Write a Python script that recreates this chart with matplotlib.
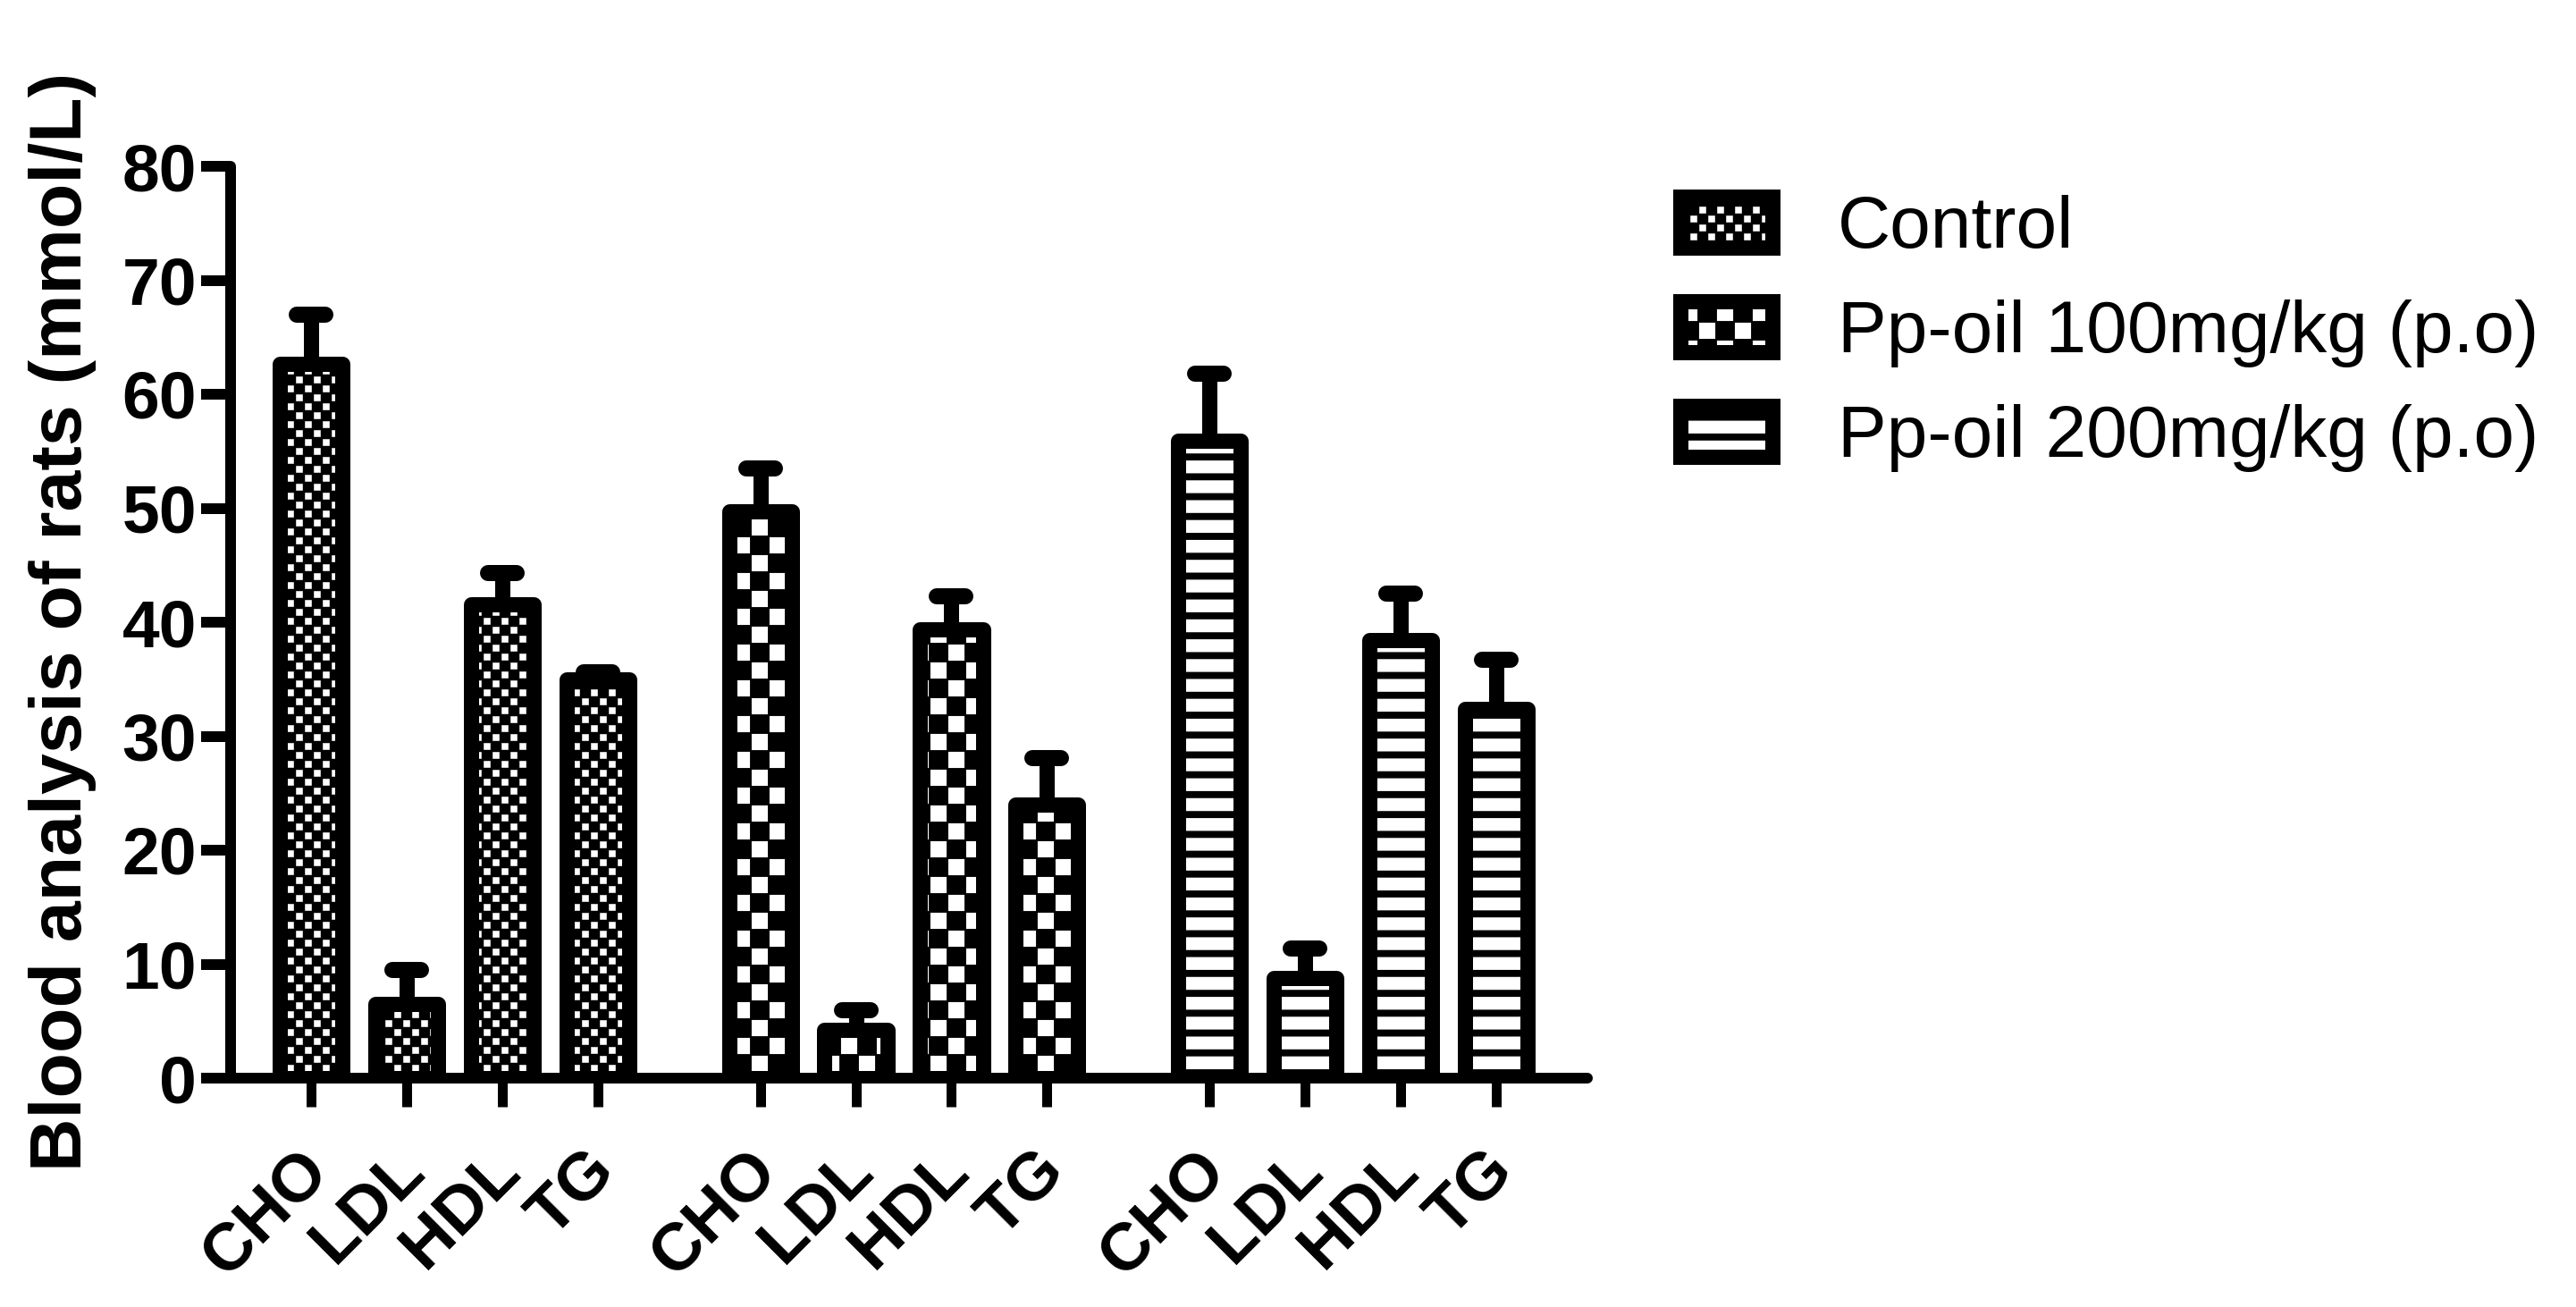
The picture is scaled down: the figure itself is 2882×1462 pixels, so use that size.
import numpy as np
import matplotlib
matplotlib.use("Agg")
import matplotlib.pyplot as plt
import matplotlib.hatch as mhatch
from matplotlib.path import Path
from matplotlib.markers import MarkerStyle
from matplotlib.transforms import ScaledTranslation

# ---------------- data ----------------
groups = ["Control", "Pp-oil 100mg/kg (p.o)", "Pp-oil 200mg/kg (p.o)"]
analytes = ["CHO", "LDL", "HDL", "TG"]
control_mean = [62.7, 6.5, 41.6, 35.0]
control_err = [4.3, 3.0, 2.7, 0.6]
pp100_mean = [49.7, 4.2, 39.4, 24.0]
pp100_err = [3.8, 1.8, 2.9, 4.1]
pp200_mean = [55.9, 8.8, 38.4, 32.4]
pp200_err = [5.9, 2.6, 4.1, 4.3]
y_ticks = [0, 10, 20, 30, 40, 50, 60, 70, 80]
y_label = "Blood analysis of rats (mmol/L)"

means = [control_mean, pp100_mean, pp200_mean]
errs = [control_err, pp100_err, pp200_err]
hatches = [".", "x", "-"]

# ---------------- custom hatch patterns (white on black) ----------------
class _TileHatch(mhatch.HatchPatternBase):
    key = ""
    def __init__(self, hatch, density):
        self.rects = self.build() if self.key in hatch else []
        self.num_vertices = 5 * len(self.rects)

    def set_vertices_and_codes(self, vertices, codes):
        for k, (x0, y0, w, h) in enumerate(self.rects):
            vertices[5 * k:5 * k + 5] = [(x0, y0), (x0 + w, y0), (x0 + w, y0 + h),
                                         (x0, y0 + h), (x0, y0)]
            codes[5 * k:5 * k + 5] = [Path.MOVETO, Path.LINETO, Path.LINETO,
                                      Path.LINETO, Path.CLOSEPOLY]


class _Checker(_TileHatch):
    n = 20
    frac = 0.75
    def build(self):
        c = 1.0 / self.n
        s = c * self.frac
        m = (c - s) / 2
        return [(i * c + m, j * c + m, s, s)
                for i in range(self.n) for j in range(self.n) if (i + j) % 2 == 0]


class FineChecker(_Checker):
    key = "."
    n = 20
    frac = 0.75


class CoarseChecker(_Checker):
    key = "x"
    n = 10
    frac = 0.9


class Stripes(_TileHatch):
    key = "-"
    n = 9
    frac = 0.64
    def build(self):
        c = 1.0 / self.n
        h = c * self.frac
        return [(0.0, j * c + (c - h) / 2, 1.0, h) for j in range(self.n)]


mhatch._hatch_types = [FineChecker, CoarseChecker, Stripes]

# ---------------- figure ----------------
DPI = 200
plt.rcParams["font.family"] = ["Liberation Sans", "DejaVu Sans"]
plt.rcParams["hatch.linewidth"] = 0.05

fig = plt.figure(figsize=(2882 / DPI, 1462 / DPI), dpi=DPI)
ax = fig.add_axes([258 / 2882, 1 - 1206 / 1462, 1518 / 2882, 1020 / 1462])

px = 72.0 / DPI  # points per pixel
group_step = 4.7
bar_w = 0.656
edge_lw = 17 * px

handles = []
tick_pos = []
tick_lab = []
for g, (m, e, h) in enumerate(zip(means, errs, hatches)):
    x = g * group_step + np.arange(len(analytes))
    m = np.asarray(m)
    e = np.asarray(e)
    fill = ax.bar(x, m, width=bar_w, color="black", edgecolor="white",
                  linewidth=0, hatch=h, zorder=2)
    edge = ax.bar(x, m, width=bar_w, fill=False, edgecolor="black",
                  linewidth=edge_lw, joinstyle="round", zorder=3)
    ax.errorbar(x, m, yerr=[np.zeros_like(e), e], fmt="none", ecolor="black",
                elinewidth=17 * px, capsize=0, zorder=1.5)
    ax.plot(x, m + e, linestyle="none",
            marker=MarkerStyle("_", capstyle="round"),
            markersize=32 * px, markeredgewidth=18 * px,
            color="black", zorder=1.6)
    handles.append((fill[0], edge[0]))
    tick_pos.extend(x)
    tick_lab.extend(analytes)

ax.set_xlim(-0.8435, 13.356)
ax.set_ylim(0, 80)
ax.set_yticks(y_ticks)
ax.set_xticks(tick_pos)

for s in ["top", "right"]:
    ax.spines[s].set_visible(False)
for s in ["left", "bottom"]:
    ax.spines[s].set_linewidth(12 * px)
    ax.spines[s].set_capstyle("round")

ax.tick_params(axis="y", length=33 * px, width=12 * px, pad=5 * px,
               labelsize=27, direction="out")
ax.tick_params(axis="x", length=32 * px, width=11 * px, pad=60 * px,
               labelsize=27, direction="out")
for lab in ax.get_yticklabels():
    lab.set_fontweight("bold")

ax.set_xticklabels(tick_lab, rotation=45, ha="right", va="center",
                   rotation_mode="anchor", fontweight="bold")
off = ScaledTranslation(8 / DPI, 0, fig.dpi_scale_trans)
for lab in ax.get_xticklabels():
    lab.set_transform(lab.get_transform() + off)

fig.text(70 / 2882, 1 - 695 / 1462, y_label, rotation=90, ha="center",
         va="center", fontsize=29.7, fontweight="bold")

fs_leg = 29.5
fs_px = fs_leg / px
leg = fig.legend(handles, groups, loc="upper left",
                 bbox_to_anchor=(1880 / 2882, 1 - 218 / 1462),
                 frameon=False, fontsize=fs_leg, borderpad=0, borderaxespad=0,
                 handlelength=103 / fs_px, handleheight=57 / fs_px,
                 handletextpad=73 / fs_px, labelspacing=0.5)

fig.savefig("out.png", dpi=DPI, facecolor="white")
